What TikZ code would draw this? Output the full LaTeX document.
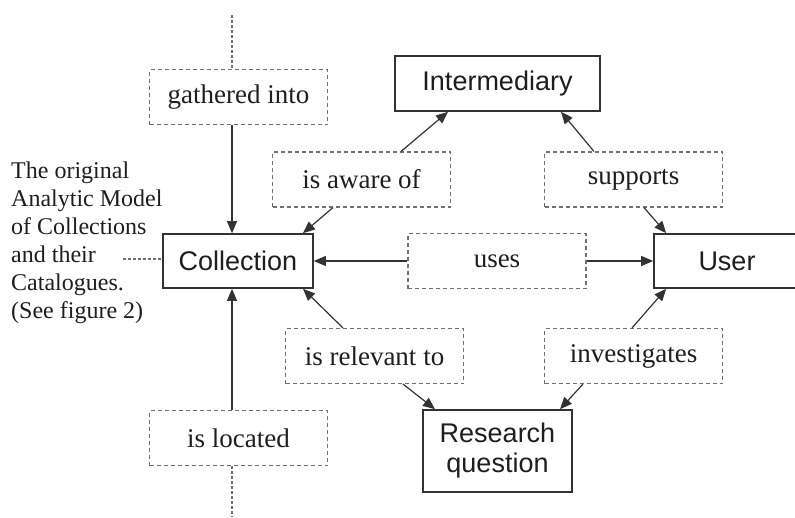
\documentclass[tikz,border=0pt]{standalone}
\usepackage{fontspec}
\setmainfont{Liberation Serif}
\setsansfont{Liberation Sans}
\usetikzlibrary{arrows.meta,calc}
\definecolor{edgec}{HTML}{333333}
\definecolor{dashc}{HTML}{707070}
\definecolor{txtc}{HTML}{1E1E1E}
\begin{document}
\begin{tikzpicture}[x=1pt,y=-1pt,
  entity/.style={draw=edgec, line width=1.6pt, fill=white, font=\sffamily\fontsize{27}{30}\selectfont, text=txtc, inner sep=0pt, align=center},
  relbox/.style={draw=dashc, line width=1.1pt, dash pattern=on 4pt off 3pt, font=\fontsize{27}{30}\selectfont, text=txtc, inner sep=0pt, minimum width=178pt, minimum height=55pt},
  conn/.style={draw=edgec, line width=1.2pt, -{Triangle[length=12pt,width=10pt]}},
  dotline/.style={draw=dashc, line width=1.1pt, dash pattern=on 3pt off 2pt}]
\useasboundingbox (0,0) rectangle (795,517);

% entities
\node[entity, minimum width=150pt, minimum height=54pt] (coll) at (238,261) {Collection};
\node[entity, minimum width=205pt, minimum height=55pt] (inter) at (497.5,83.5) {Intermediary};
\node[entity, minimum width=146pt, minimum height=54pt] (user) at (727,261) {User};
\node[entity, minimum width=149pt, minimum height=82pt] (rq) at (497.5,451) {Research\\question};

% relation boxes
\node[relbox] (gath) at (238.5,97) {gathered into};
\node[relbox] (aware) at (361.5,179.5) {is aware of};
\node[relbox] (supp) at (633.5,179.5) {supports};
\node[relbox] (uses) at (497,261) {uses};
\node[relbox] (rel) at (374.5,356) {is relevant to};
\node[relbox] (inv) at (633.5,356) {investigates};
\node[relbox] (loc) at (238.5,438) {is located};

% side text
\node[anchor=west, align=left, inner sep=0pt, text=txtc, font=\fontsize{24}{28}\selectfont] (side) at (11,243)
  {The original\\Analytic Model\\of Collections\\and their\\Catalogues.\\(See figure 2)};

% helper coordinates
\coordinate (cx) at (232,0);
\coordinate (topend) at (232,15);
\coordinate (botend) at (232,517);
\coordinate (sidend) at (123,259);

% dotted lines
\draw[dotline] (topend) -- (gath.north -| cx);
\draw[dotline] (loc.south -| cx) -- (botend);
\draw[dotline] (sidend) -- (coll.west |- sidend);

% connectors
\draw[conn] (gath.south -| cx) -- (coll.north -| cx);
\draw[conn] (loc.north -| cx) -- (coll.south -| cx);
\draw[conn] ([xshift=39.5pt]aware.north) -- ([xshift=-49.5pt]inter.south);
\draw[conn] ([xshift=-28.5pt]aware.south) -- ([xshift=65pt]coll.north);
\draw[conn] ([xshift=-39.5pt]supp.north) -- ([xshift=63.5pt]inter.south);
\draw[conn] ([xshift=10.5pt]supp.south) -- ([xshift=13pt]user.north west);
\draw[conn] (uses.west) -- (coll.east);
\draw[conn] (uses.east) -- (user.west);
\draw[conn] ([xshift=-31.5pt]rel.north) -- ([xshift=65pt]coll.south);
\draw[conn] ([xshift=28.5pt]rel.south) -- ([xshift=-62.5pt]rq.north);
\draw[conn] ([xshift=-1.5pt]inv.north) -- ([xshift=13pt]user.south west);
\draw[conn] ([xshift=-50.5pt]inv.south) -- ([xshift=62.5pt]rq.north);
\end{tikzpicture}
\end{document}
